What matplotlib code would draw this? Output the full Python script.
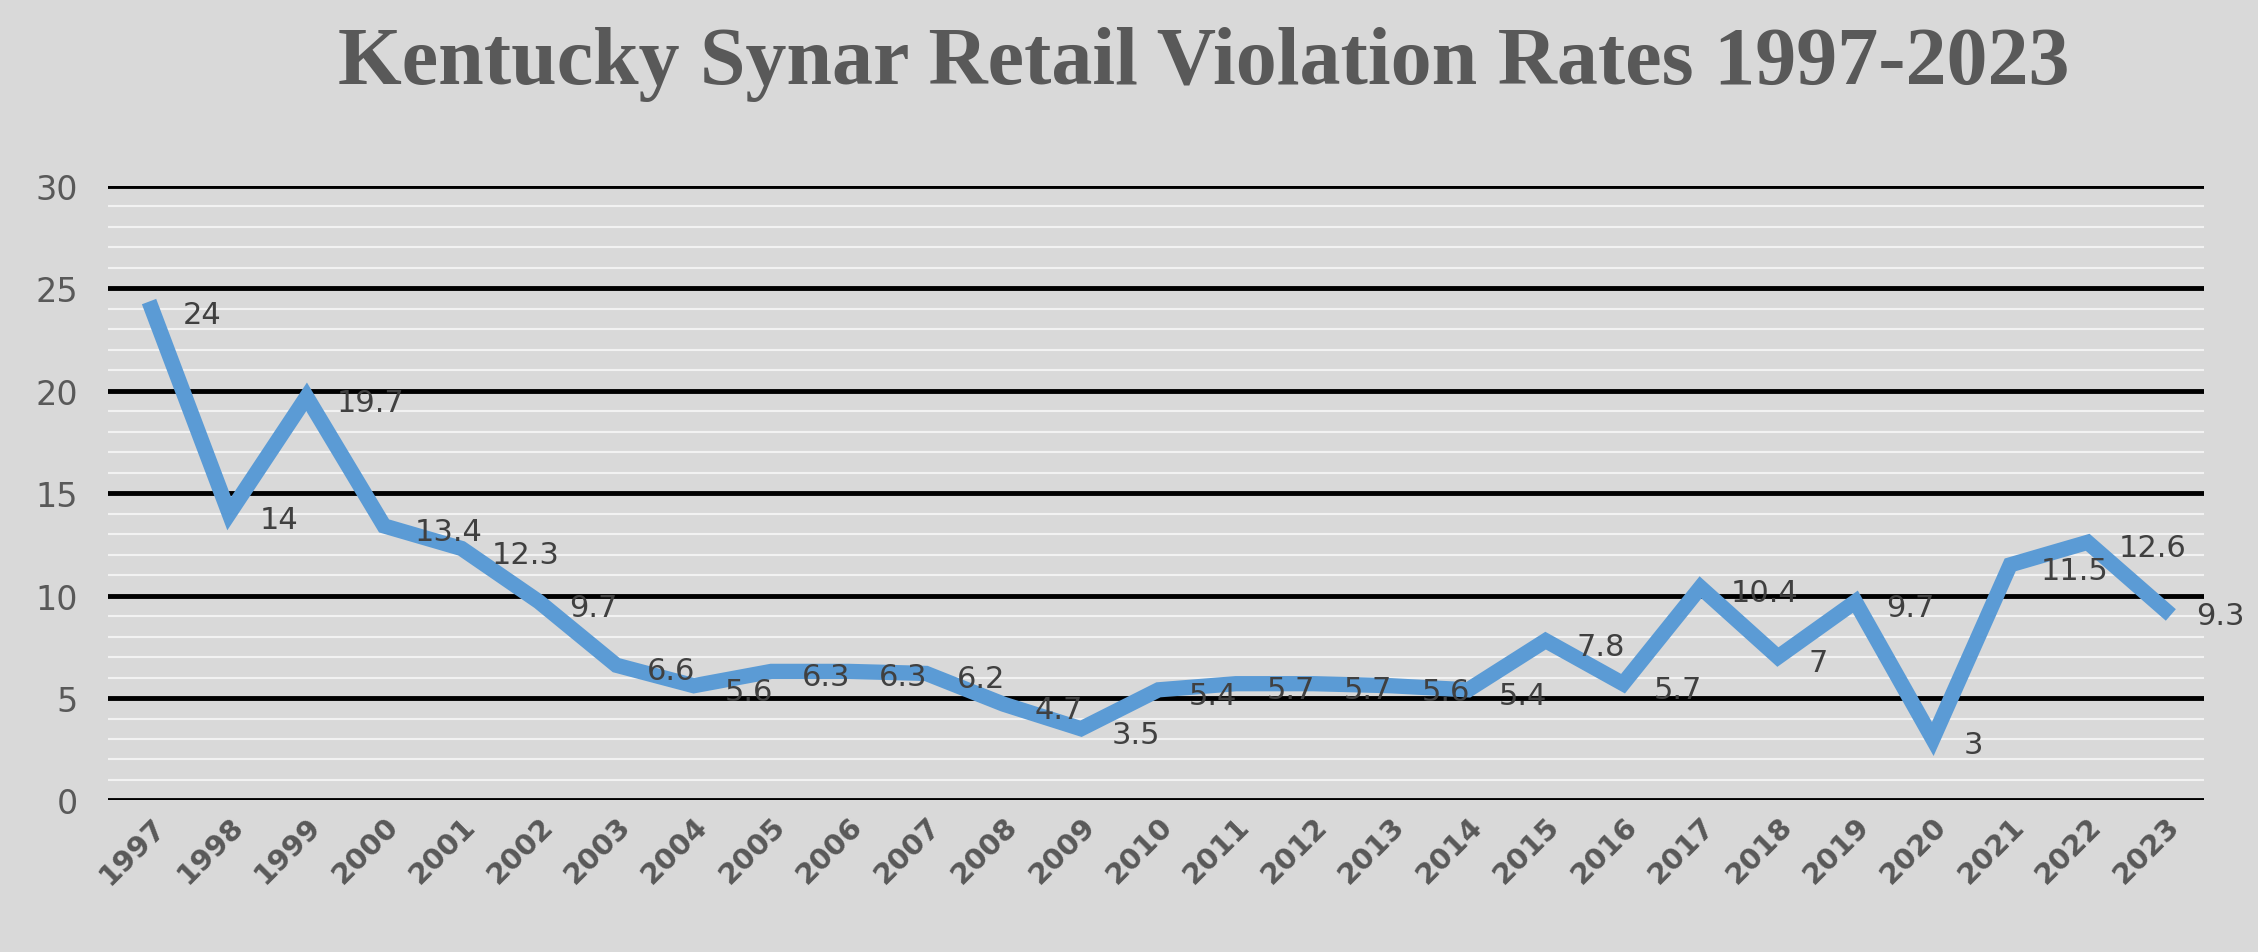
import matplotlib
matplotlib.use("Agg")
import matplotlib.pyplot as plt
from matplotlib.ticker import MultipleLocator

years = list(range(1997, 2024))
rates = [24, 14, 19.7, 13.4, 12.3, 9.7, 6.6, 5.6, 6.3, 6.3, 6.2, 4.7, 3.5, 5.4,
         5.7, 5.7, 5.6, 5.4, 7.8, 5.7, 10.4, 7, 9.7, 3, 11.5, 12.6, 9.3]
labels = ["24", "14", "19.7", "13.4", "12.3", "9.7", "6.6", "5.6", "6.3", "6.3", "6.2",
          "4.7", "3.5", "5.4", "5.7", "5.7", "5.6", "5.4", "7.8", "5.7", "10.4", "7",
          "9.7", "3", "11.5", "12.6", "9.3"]

bg = "#D9D9D9"
fig = plt.figure(figsize=(22.58, 9.53), dpi=100, facecolor=bg)
ax = fig.add_axes([0.048, 0.159, 0.928, 0.645], facecolor=bg)

x = list(range(len(years)))
ax.plot(x, rates, color="#5B9BD5", lw=11, solid_joinstyle="miter", zorder=3)
for xi, v, t in zip(x, rates, labels):
    ax.annotate(t, (xi, v), xytext=(22, -4), textcoords="offset points",
                ha="left", va="center", fontsize=22, color="#404040", zorder=4)

ax.set_xlim(-0.56, 26.5)
ax.set_ylim(0, 30)
ax.yaxis.set_major_locator(MultipleLocator(5))
ax.yaxis.set_minor_locator(MultipleLocator(1))
ax.grid(which="major", axis="y", color="black", lw=3.5, zorder=1)
ax.grid(which="minor", axis="y", color="#F2F2F2", lw=1.5, zorder=0)
ax.set_xticks(x)
ax.set_xticklabels([str(y) for y in years], rotation=45, ha="right",
                   rotation_mode="anchor", fontsize=21, fontweight="heavy", color="#595959")
ax.tick_params(axis="y", labelsize=24, labelcolor="#595959", length=0, pad=22)
ax.tick_params(axis="x", length=0, pad=8)
ax.tick_params(which="minor", length=0)
for s in ax.spines.values():
    s.set_visible(False)

fig.text(0.533, 0.932, "Kentucky Synar Retail Violation Rates 1997-2023", ha="center",
         va="center", fontsize=59, fontweight="bold", color="#595959",
         family=["Liberation Serif", "DejaVu Serif"])

fig.savefig("out.png", facecolor=bg)
